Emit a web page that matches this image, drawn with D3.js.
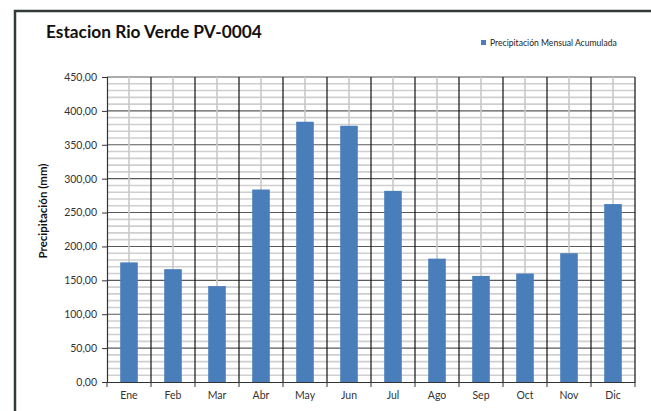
<!DOCTYPE html>
<html>
<head>
<meta charset="utf-8">
<script src="https://cdn.jsdelivr.net/npm/d3@7"></script>
<style>
  html, body { margin: 0; padding: 0; background: #fff; }
  svg { display: block; }
</style>
</head>
<body>
<svg id="chart" width="651" height="411"></svg>
<script>
// Monthly accumulated precipitation, station PV-0004
const months = ["Ene", "Feb", "Mar", "Abr", "May", "Jun", "Jul", "Ago", "Sep", "Oct", "Nov", "Dic"];
const precip = [176.5, 166.5, 141.5, 284.0, 384.0, 378.0, 282.0, 182.0, 156.5, 160.0, 190.0, 262.5];
const yTicks = [0, 50, 100, 150, 200, 250, 300, 350, 400, 450];
const minorTicks = d3.range(0, 451, 10);

const title = "Estacion Rio Verde PV-0004";
const seriesName = "Precipitación Mensual Acumulada";
const yTitle = "Precipitación (mm)";

const svg = d3.select("#chart");
const plot = { left: 107, right: 635, top: 77, bottom: 382 };
const fontFam = "Lato, 'Open Sans', 'Liberation Sans', sans-serif";

// outer frame (top and left edges)
svg.append("path")
  .attr("d", `M15,411 V11 H651`)
  .attr("fill", "none")
  .attr("stroke", "#333a3a")
  .attr("stroke-width", 2.5);

const x = d3.scaleBand().domain(months).range([plot.left, plot.right]).paddingInner(0).paddingOuter(0);
const y = d3.scaleLinear().domain([0, 450]).range([plot.bottom, plot.top]);

const g = svg.append("g");

// minor horizontal gridlines
g.selectAll("line.minor").data(minorTicks.filter(v => v % 50 !== 0)).join("line")
  .attr("x1", plot.left).attr("x2", plot.right)
  .attr("y1", d => y(d)).attr("y2", d => y(d))
  .attr("stroke", "#cfcfcf").attr("stroke-width", 1.6);

// major horizontal gridlines
g.selectAll("line.major").data(yTicks.filter(v => v > 0)).join("line")
  .attr("x1", plot.left).attr("x2", plot.right)
  .attr("y1", d => y(d)).attr("y2", d => y(d))
  .attr("stroke", "#5a5a5a").attr("stroke-width", 1.1);

// vertical gridlines at category centers
g.selectAll("line.vc").data(months).join("line")
  .attr("x1", d => x(d) + x.bandwidth() / 2).attr("x2", d => x(d) + x.bandwidth() / 2)
  .attr("y1", plot.top).attr("y2", plot.bottom)
  .attr("stroke", "#c8c8c8").attr("stroke-width", 1.6);

// vertical gridlines at category boundaries
g.selectAll("line.vb").data(months.slice(1).concat(["__end"])).join("line")
  .attr("x1", d => d === "__end" ? plot.right : x(d)).attr("x2", d => d === "__end" ? plot.right : x(d))
  .attr("y1", plot.top).attr("y2", plot.bottom)
  .attr("stroke", "#111").attr("stroke-width", 1.2);

// bars
const barW = x.bandwidth() / 2.5;
g.selectAll("rect.bar").data(precip).join("rect")
  .attr("x", (d, i) => x(months[i]) + (x.bandwidth() - barW) / 2)
  .attr("width", barW)
  .attr("y", d => y(d))
  .attr("height", d => y(0) - y(d))
  .attr("fill", "#4a7ebb");

// y axis
const yAxis = svg.append("g")
  .attr("transform", `translate(${plot.left},0)`)
  .call(d3.axisLeft(y).tickValues(yTicks).tickSize(5).tickPadding(5)
    .tickFormat(d => d3.format(".2f")(d).replace(".", ",")));
yAxis.select(".domain").attr("stroke", "#333").attr("stroke-width", 1.2);
yAxis.selectAll(".tick line").attr("stroke", "#333");
yAxis.selectAll("text").attr("font-family", fontFam).attr("font-size", 10.5).attr("fill", "#333");

// x axis
const xAxis = svg.append("g")
  .attr("transform", `translate(0,${plot.bottom})`)
  .call(d3.axisBottom(x).tickSize(0).tickPadding(10));
xAxis.select(".domain").attr("stroke", "#333").attr("stroke-width", 1.2);
xAxis.selectAll("text").attr("font-family", fontFam).attr("font-size", 10.5).attr("fill", "#333");
// category boundary ticks below the axis
svg.selectAll("line.xt").data(d3.range(months.length + 1)).join("line")
  .attr("x1", i => plot.left + i * x.bandwidth()).attr("x2", i => plot.left + i * x.bandwidth())
  .attr("y1", plot.bottom).attr("y2", plot.bottom + 5)
  .attr("stroke", "#333").attr("stroke-width", 1);

// title
svg.append("text")
  .attr("x", 46).attr("y", 38)
  .attr("font-family", fontFam).attr("font-weight", "bold").attr("font-size", 17.3)
  .attr("fill", "#111")
  .text(title);

// legend
svg.append("rect").attr("x", 481).attr("y", 40).attr("width", 5).attr("height", 5).attr("fill", "#4a7ebb");
svg.append("text")
  .attr("x", 490).attr("y", 46)
  .attr("font-family", fontFam).attr("font-size", 8.6).attr("fill", "#222")
  .text(seriesName);

// y axis title
svg.append("text")
  .attr("transform", `translate(47,${211}) rotate(-90)`)
  .attr("text-anchor", "middle")
  .attr("font-family", fontFam).attr("font-weight", "bold").attr("font-size", 11.5)
  .attr("fill", "#111")
  .text(yTitle);
</script>
</body>
</html>
